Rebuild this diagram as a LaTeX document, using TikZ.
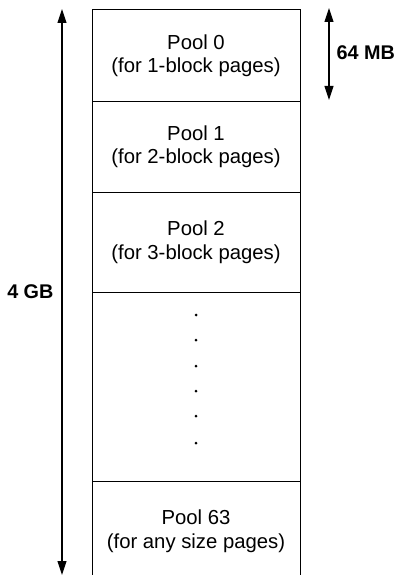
\documentclass[tikz,border=0pt]{standalone}
\usepackage{fontspec}
\setmainfont{Liberation Sans}
\usetikzlibrary{arrows.meta}
\begin{document}
\begin{tikzpicture}[x=1pt, y=-1pt,
  pool/.style={draw, line width=1pt, minimum width=208pt, inner sep=0pt,
    align=center, font=\fontsize{20.3}{23.5}\selectfont},
  sizelabel/.style={font=\bfseries\fontsize{19.8}{22}\selectfont},
  dimline/.style={line width=1.1pt,
    {Triangle[length=14pt,width=9pt]}-{Triangle[length=14pt,width=9pt]}}]
  \useasboundingbox (0,0) rectangle (395,575);
  % Pools
  \node[pool, minimum height=92pt] (pool0) at (196,56) {Pool 0\\(for 1-block pages)};
  \node[pool, minimum height=90pt] (pool1) at (196,147) {Pool 1\\(for 2-block pages)};
  \node[pool, minimum height=100pt] (pool2) at (196,242) {Pool 2\\(for 3-block pages)};
  \node[pool, minimum height=189pt] (gap) at (196,386.5) {};
  \node[pool, minimum height=100pt] (pool63) at (196,531) {Pool 63\\(for any size pages)};
  % Dots
  \foreach \y in {315,340,366,391,416,443}
    \fill (196,\y) circle (1.5pt);
  % 4 GB
  \coordinate (gtop) at (62,9);
  \coordinate (gbot) at (62,575);
  \draw[dimline] (gtop) -- (gbot);
  \node[sizelabel, anchor=east] (total) at (57,292) {4 GB};
  % 64 MB
  \coordinate (mtop) at (329,8);
  \coordinate (mbot) at (329,100);
  \draw[dimline] (mtop) -- (mbot);
  \node[sizelabel, anchor=west] (poolsize) at (333,53) {64 MB};
\end{tikzpicture}
\end{document}
